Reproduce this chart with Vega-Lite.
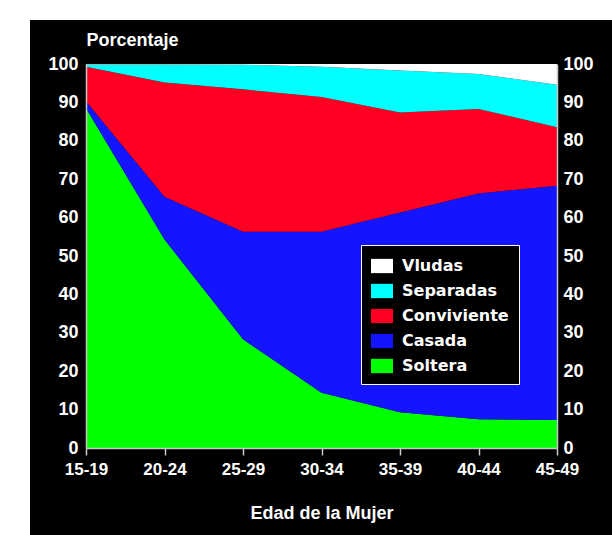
{
  "$schema": "https://vega.github.io/schema/vega-lite/v6.json",
  "width": 582,
  "height": 515,
  "autosize": {"type": "none"},
  "padding": {"left": 30, "top": 20, "right": 0, "bottom": 0},
  "background": "white",
  "config": {
    "view": {"fill": "black", "stroke": null},
    "font": "Liberation Sans"
  },
  "data": {
    "values": [
      {"edad": "15-19", "estado": "Soltera", "porcentaje": 88.5, "orden": 1},
      {"edad": "15-19", "estado": "Casada", "porcentaje": 1.8, "orden": 2},
      {"edad": "15-19", "estado": "Conviviente", "porcentaje": 9.0, "orden": 3},
      {"edad": "15-19", "estado": "Separadas", "porcentaje": 0.6, "orden": 4},
      {"edad": "15-19", "estado": "Vludas", "porcentaje": 0.1, "orden": 5},
      {"edad": "20-24", "estado": "Soltera", "porcentaje": 54.3, "orden": 1},
      {"edad": "20-24", "estado": "Casada", "porcentaje": 11.1, "orden": 2},
      {"edad": "20-24", "estado": "Conviviente", "porcentaje": 29.8, "orden": 3},
      {"edad": "20-24", "estado": "Separadas", "porcentaje": 4.7, "orden": 4},
      {"edad": "20-24", "estado": "Vludas", "porcentaje": 0.1, "orden": 5},
      {"edad": "25-29", "estado": "Soltera", "porcentaje": 28.3, "orden": 1},
      {"edad": "25-29", "estado": "Casada", "porcentaje": 28.0, "orden": 2},
      {"edad": "25-29", "estado": "Conviviente", "porcentaje": 37.1, "orden": 3},
      {"edad": "25-29", "estado": "Separadas", "porcentaje": 6.4, "orden": 4},
      {"edad": "25-29", "estado": "Vludas", "porcentaje": 0.2, "orden": 5},
      {"edad": "30-34", "estado": "Soltera", "porcentaje": 14.4, "orden": 1},
      {"edad": "30-34", "estado": "Casada", "porcentaje": 41.9, "orden": 2},
      {"edad": "30-34", "estado": "Conviviente", "porcentaje": 35.1, "orden": 3},
      {"edad": "30-34", "estado": "Separadas", "porcentaje": 7.9, "orden": 4},
      {"edad": "30-34", "estado": "Vludas", "porcentaje": 0.7, "orden": 5},
      {"edad": "35-39", "estado": "Soltera", "porcentaje": 9.3, "orden": 1},
      {"edad": "35-39", "estado": "Casada", "porcentaje": 52.0, "orden": 2},
      {"edad": "35-39", "estado": "Conviviente", "porcentaje": 26.1, "orden": 3},
      {"edad": "35-39", "estado": "Separadas", "porcentaje": 10.9, "orden": 4},
      {"edad": "35-39", "estado": "Vludas", "porcentaje": 1.7, "orden": 5},
      {"edad": "40-44", "estado": "Soltera", "porcentaje": 7.5, "orden": 1},
      {"edad": "40-44", "estado": "Casada", "porcentaje": 58.8, "orden": 2},
      {"edad": "40-44", "estado": "Conviviente", "porcentaje": 22.0, "orden": 3},
      {"edad": "40-44", "estado": "Separadas", "porcentaje": 9.1, "orden": 4},
      {"edad": "40-44", "estado": "Vludas", "porcentaje": 2.6, "orden": 5},
      {"edad": "45-49", "estado": "Soltera", "porcentaje": 7.3, "orden": 1},
      {"edad": "45-49", "estado": "Casada", "porcentaje": 61.0, "orden": 2},
      {"edad": "45-49", "estado": "Conviviente", "porcentaje": 15.2, "orden": 3},
      {"edad": "45-49", "estado": "Separadas", "porcentaje": 11.1, "orden": 4},
      {"edad": "45-49", "estado": "Vludas", "porcentaje": 5.4, "orden": 5}
    ]
  },
  "layer": [
    {
      "mark": {"type": "area", "interpolate": "linear"},
      "encoding": {
        "x": {
          "field": "edad",
          "type": "ordinal",
          "scale": {"type": "point", "range": [56, 527], "padding": 0},
          "axis": {
            "orient": "bottom",
            "offset": -87,
            "zindex": 1,
            "labelAngle": 0,
            "tickSize": 7,
            "tickWidth": 1.5,
            "tickColor": "#c8c8c8",
            "domainColor": "#c8c8c8",
            "domainWidth": 1.5,
            "labelPadding": 6,
            "labelColor": "white",
            "labelFontSize": 17,
            "labelFontWeight": "bold",
            "labelFont": "Liberation Sans",
            "title": "Edad de la Mujer",
            "titleColor": "white",
            "titleFontSize": 18,
            "titleFontWeight": "bold",
            "titleFont": "Liberation Sans",
            "titlePadding": 27
          }
        },
        "y": {
          "field": "porcentaje",
          "type": "quantitative",
          "stack": "zero",
          "scale": {"domain": [0, 100], "range": [428, 44], "nice": false, "zero": true},
          "axis": {
            "orient": "left",
            "offset": -56,
            "zindex": 1,
            "values": [0, 10, 20, 30, 40, 50, 60, 70, 80, 90, 100],
            "ticks": false,
            "grid": false,
            "labelPadding": 8,
            "labelColor": "white",
            "labelFontSize": 18,
            "labelFontWeight": "bold",
            "labelFont": "Liberation Sans",
            "domainColor": "#c8c8c8",
            "domainWidth": 1.5,
            "title": "Porcentaje",
            "titleAngle": 0,
            "titleAlign": "left",
            "titleBaseline": "alphabetic",
            "titleX": 0,
            "titleY": 25,
            "titleColor": "white",
            "titleFontSize": 18,
            "titleFontWeight": "bold",
            "titleFont": "Liberation Sans"
          }
        },
        "color": {
          "field": "estado",
          "type": "nominal",
          "scale": {
            "domain": ["Vludas", "Separadas", "Conviviente", "Casada", "Soltera"],
            "range": ["#ffffff", "#00ffff", "#ff0022", "#1414ff", "#00ff00"]
          },
          "legend": {
            "orient": "none",
            "legendX": 331,
            "legendY": 225,
            "title": null,
            "fillColor": "black",
            "strokeColor": "white",
            "padding": 10,
            "symbolType": "M-1,-0.65H1V0.65H-1Z",
            "symbolSize": 484,
            "symbolStrokeWidth": 0,
            "symbolOpacity": 1,
            "labelColor": "white",
            "labelFont": "DejaVu Sans",
            "labelFontWeight": "bold",
            "labelFontSize": 16,
            "labelOffset": 9,
            "rowPadding": 6
          }
        },
        "order": {"field": "orden", "type": "quantitative"}
      }
    },
    {
      "mark": {"type": "rule", "strokeOpacity": 0},
      "encoding": {
        "y": {
          "datum": 0,
          "type": "quantitative",
          "axis": {
            "orient": "right",
            "offset": -55,
            "zindex": 1,
            "values": [0, 10, 20, 30, 40, 50, 60, 70, 80, 90, 100],
            "ticks": false,
            "grid": false,
            "labelPadding": 6,
            "labelColor": "white",
            "labelFontSize": 18,
            "labelFontWeight": "bold",
            "labelFont": "Liberation Sans",
            "domainColor": "#c8c8c8",
            "domainWidth": 1.5,
            "title": null
          }
        }
      }
    }
  ],
  "resolve": {"axis": {"y": "independent"}}
}
